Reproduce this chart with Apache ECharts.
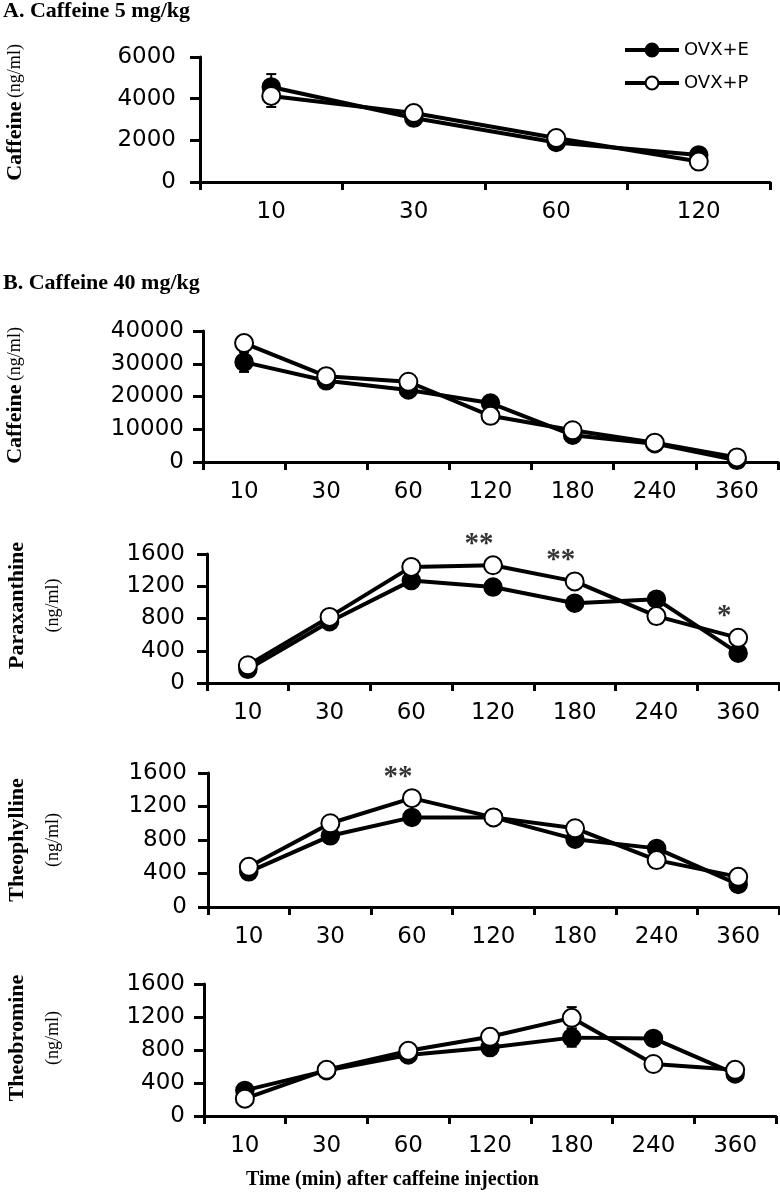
<!DOCTYPE html>
<html><head><meta charset="utf-8">
<script src="https://cdn.jsdelivr.net/npm/echarts@6/dist/echarts.min.js"></script>
<style>html,body{margin:0;padding:0;background:#fff}#c{width:780px;height:1200px}</style>
</head><body><div id="c"></div>
<script>
// ---- data ----
const catsA = ['10', '30', '60', '120'];
const catsB = ['10', '30', '60', '120', '180', '240', '360'];
const groupNames = ['OVX+E', 'OVX+P'];

const yTicksA = [0, 2000, 4000, 6000];
const yTicksCafB = [0, 10000, 20000, 30000, 40000];
const yTicksMet = [0, 400, 800, 1200, 1600];

const cafA_E = [4560, 3070, 1900, 1300];
const cafA_P = [4130, 3310, 2110, 980];
const cafA_E_err = [620, 0, 0, 0];
const cafA_P_err = [530, 0, 0, 0];

const cafB_E = [30500, 24800, 22000, 18000, 8200, 5600, 500];
const cafB_P = [36300, 26200, 24500, 14100, 9700, 5900, 1400];
const cafB_E_err = [3000, 0, 0, 0, 0, 0, 0];
const cafB_P_err = [0, 0, 0, 0, 0, 0, 0];

const para_E = [170, 760, 1270, 1190, 990, 1040, 370];
const para_P = [220, 820, 1440, 1460, 1260, 830, 560];
const para_sig = ['', '', '', '**', '**', '', '*'];

const theo_E = [420, 850, 1070, 1070, 810, 700, 270];
const theo_P = [480, 1000, 1300, 1070, 940, 560, 360];
const theo_sig = ['', '', '**', '', '', '', ''];

const tbr_E = [310, 550, 740, 830, 950, 940, 510];
const tbr_P = [210, 560, 790, 960, 1190, 630, 560];
const tbr_E_err = [0, 0, 0, 80, 110, 0, 0];
const tbr_P_err = [0, 0, 0, 0, 130, 0, 0];

const titleA = 'A. Caffeine 5 mg/kg';
const titleB = 'B. Caffeine 40 mg/kg';
const xTitle = 'Time (min) after caffeine injection';

// ---- panels ----
const panels = [
  {cats: catsA, ticks: yTicksA, E: cafA_E, P: cafA_P, Ee: cafA_E_err, Pe: cafA_P_err, sig: null,
   name: '{b|Caffeine} {u|(ng/ml)}', gap: 167, shift: 14, lm: 24,
   grid: {left: 200, right: 10, top: 57, height: 125}},
  {cats: catsB, ticks: yTicksCafB, E: cafB_E, P: cafB_P, Ee: cafB_E_err, Pe: cafB_P_err, sig: null,
   name: '{b|Caffeine} {u|(ng/ml)}', gap: 170, shift: 2, lm: 19,
   grid: {left: 203, right: 2, top: 331, height: 131}},
  {cats: catsB, ticks: yTicksMet, E: para_E, P: para_P, Ee: null, Pe: null, sig: para_sig,
   name: '{b|Paraxanthine}\n{u|(ng/ml)}', gap: 136, shift: 26, lm: 22,
   grid: {left: 207, right: 1, top: 554, height: 129}},
  {cats: catsB, ticks: yTicksMet, E: theo_E, P: theo_P, Ee: null, Pe: null, sig: theo_sig,
   name: '{b|Theophylline}\n{u|(ng/ml)}', gap: 137, shift: 0, lm: 21,
   grid: {left: 208, right: 1, top: 773, height: 134}},
  {cats: catsB, ticks: yTicksMet, E: tbr_E, P: tbr_P, Ee: tbr_E_err, Pe: tbr_P_err, sig: null,
   name: '{b|Theobromine}\n{u|(ng/ml)}', gap: 133, shift: 24, lm: 19,
   grid: {left: 204, right: 4, top: 984, height: 132}}
];

const tickFont = 'DejaVu Sans';
const serif = 'Liberation Serif';

function errRender(params, api) {
  const x = api.value(0), y = api.value(1), e = api.value(2);
  const t = api.coord([x, y + e]), b = api.coord([x, y - e]);
  const w = 5;
  const st = {stroke: '#000', lineWidth: 2};
  return {type: 'group', children: [
    {type: 'line', shape: {x1: t[0], y1: t[1], x2: b[0], y2: b[1]}, style: st},
    {type: 'line', shape: {x1: t[0] - w, y1: t[1], x2: t[0] + w, y2: t[1]}, style: st},
    {type: 'line', shape: {x1: b[0] - w, y1: b[1], x2: b[0] + w, y2: b[1]}, style: st}
  ]};
}

const grids = [], xAxes = [], yAxes = [], series = [];
panels.forEach((p, i) => {
  grids.push(Object.assign({containLabel: false, outerBoundsMode: 'none'}, p.grid));
  xAxes.push({
    type: 'category', gridIndex: i, data: p.cats, boundaryGap: true,
    axisLine: {lineStyle: {color: '#000', width: 3}},
    axisTick: {show: true, length: 8, lineStyle: {color: '#000', width: 3}},
    axisLabel: {color: '#000', fontSize: 23, fontFamily: tickFont, margin: 19},
    splitLine: {show: false}
  });
  const t = p.ticks;
  yAxes.push({
    type: 'value', gridIndex: i, min: t[0], max: t[t.length - 1], interval: t[1] - t[0],
    axisLine: {show: true, lineStyle: {color: '#000', width: 3}},
    axisTick: {show: true, length: 10, lineStyle: {color: '#000', width: 3}},
    axisLabel: {color: '#000', fontSize: 23, fontFamily: tickFont, margin: p.lm,
      formatter: v => String(v)},
    splitLine: {show: false},
    name: p.name, nameLocation: 'middle', nameRotate: 90, nameGap: p.gap,
    nameTextStyle: {
      color: '#000',
      padding: [0, 0, 0, p.shift],
      rich: {
        b: {fontFamily: serif, fontWeight: 'bold', fontSize: 22, lineHeight: 36, color: '#000'},
        u: {fontFamily: serif, fontSize: 18, lineHeight: 36, color: '#000'}
      }
    }
  });
  const errData = [];
  [[p.E, p.Ee], [p.P, p.Pe]].forEach(([v, e]) => {
    if (!e) return;
    e.forEach((ev, k) => { if (ev > 0) errData.push([k, v[k], ev]); });
  });
  if (errData.length) {
    series.push({type: 'custom', xAxisIndex: i, yAxisIndex: i, renderItem: errRender,
      data: errData, z: 1, silent: true});
  }
  series.push({
    name: groupNames[0], type: 'line', xAxisIndex: i, yAxisIndex: i, data: p.E,
    symbol: 'circle', symbolSize: 18, z: 2,
    lineStyle: {color: '#000', width: 4},
    itemStyle: {color: '#000', borderColor: '#000', borderWidth: 1.5},
    emphasis: {disabled: true}
  });
  series.push({
    name: groupNames[1], type: 'line', xAxisIndex: i, yAxisIndex: i, data: p.P,
    symbol: 'circle', symbolSize: 18, z: 3,
    lineStyle: {color: '#000', width: 4},
    itemStyle: {color: '#fff', borderColor: '#000', borderWidth: 2},
    emphasis: {disabled: true}
  });
  if (p.sig) {
    const sd = [];
    p.sig.forEach((s, k) => { if (s) sd.push({value: [k, Math.max(p.E[k], p.P[k])], sig: s}); });
    series.push({
      type: 'scatter', xAxisIndex: i, yAxisIndex: i, symbolSize: 1, z: 4, silent: true,
      itemStyle: {color: 'rgba(0,0,0,0)'},
      data: sd.map(d => ({value: d.value, label: {formatter: d.sig}})),
      label: {show: true, position: 'top', distance: 6, offset: [-14, 0], color: '#000',
        fontFamily: serif, fontWeight: 'bold', fontSize: 29}
    });
  }
});

const titleStyle = {fontFamily: serif, fontWeight: 'bold', fontSize: 22, color: '#000'};
const chart = echarts.init(document.getElementById('c'), null, {renderer: 'canvas'});
chart.setOption({
  animation: false,
  backgroundColor: '#fff',
  title: [
    {text: titleA, left: 3, top: 0, padding: 0, textStyle: titleStyle},
    {text: titleB, left: 3, top: 272, padding: 0, textStyle: titleStyle},
    {text: xTitle, left: 246, top: 1170, padding: 0,
     textStyle: {fontFamily: serif, fontWeight: 'bold', fontSize: 20, color: '#000'}}
  ],
  legend: {
    data: groupNames, orient: 'vertical', left: 618, top: 36, itemGap: 15,
    itemWidth: 54, itemHeight: 16,
    lineStyle: {width: 4},
    textStyle: {fontFamily: tickFont, fontSize: 18, color: '#000'},
    selectedMode: false
  },
  grid: grids, xAxis: xAxes, yAxis: yAxes, series: series
});
</script></body></html>
